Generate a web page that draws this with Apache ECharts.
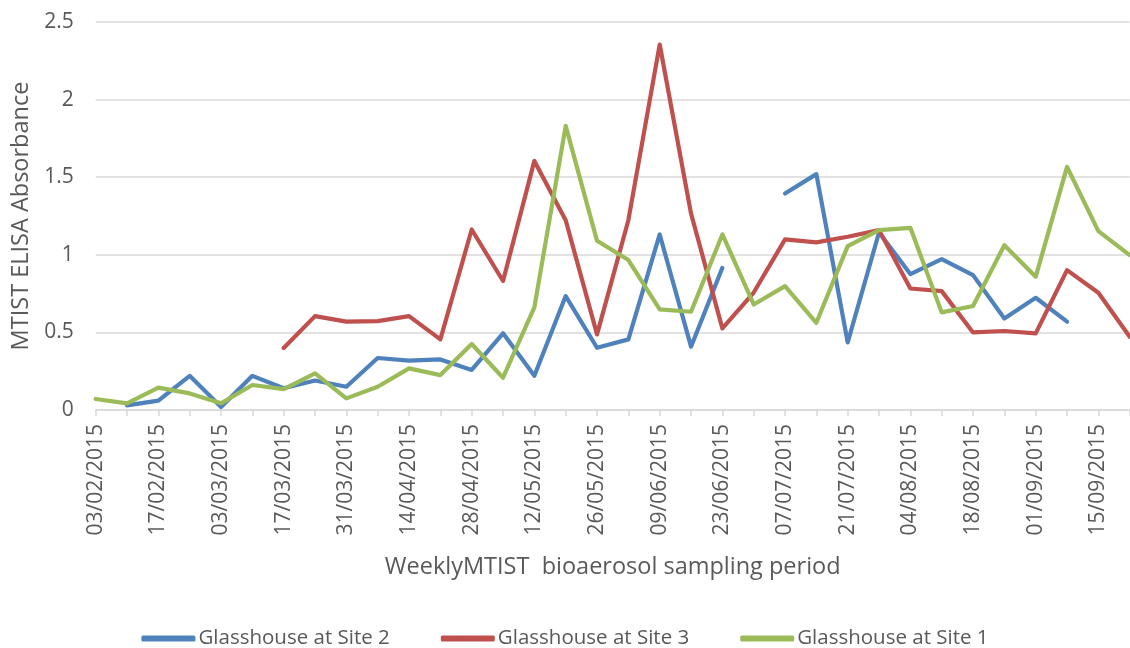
<!DOCTYPE html>
<html>
<head>
<meta charset="utf-8">
<script src="https://cdn.jsdelivr.net/npm/echarts@6/dist/echarts.min.js"></script>
<style>html,body{margin:0;padding:0;background:#fff}#c{width:1130px;height:648px}</style>
</head>
<body>
<div id="c"></div>
<script>
const categories = ['03/02/2015','10/02/2015','17/02/2015','24/02/2015','03/03/2015','10/03/2015','17/03/2015','24/03/2015','31/03/2015','07/04/2015','14/04/2015','21/04/2015','28/04/2015','05/05/2015','12/05/2015','19/05/2015','26/05/2015','02/06/2015','09/06/2015','16/06/2015','23/06/2015','30/06/2015','07/07/2015','14/07/2015','21/07/2015','28/07/2015','04/08/2015','11/08/2015','18/08/2015','25/08/2015','01/09/2015','08/09/2015','15/09/2015','22/09/2015'];
const site2 = [null,0.03,0.06,0.22,0.02,0.22,0.14,0.19,0.15,0.335,0.318,0.326,0.258,0.494,0.221,0.734,0.401,0.455,1.131,0.408,0.916,null,1.395,1.52,0.436,1.144,0.876,0.972,0.869,0.59,0.723,0.569,null,null];
const site3 = [null,null,null,null,null,null,0.40,0.605,0.569,0.573,0.605,0.455,1.163,0.831,1.605,1.223,0.487,1.223,2.355,1.266,0.526,0.757,1.099,1.08,1.116,1.159,0.783,0.766,0.50,0.509,0.494,0.901,0.755,0.472];
const site1 = [0.071,0.043,0.144,0.107,0.043,0.161,0.135,0.236,0.075,0.15,0.268,0.225,0.425,0.208,0.661,1.831,1.09,0.966,0.648,0.633,1.131,0.68,0.798,0.562,1.056,1.159,1.174,0.629,0.67,1.062,0.858,1.567,1.153,0.998];
const seriesNames = ['Glasshouse at Site 2','Glasshouse at Site 3','Glasshouse at Site 1'];
const yTicks = {min:0, max:2.5, interval:0.5};

const FONT = 'Open Sans';
const TXT = '#595959';
const chart = echarts.init(document.getElementById('c'), null, {renderer:'canvas'});
function mk(name, data, color){
  return {name, type:'line', data, symbol:'none', connectNulls:false, animation:false,
    lineStyle:{width:4.2, color, cap:'round', join:'round'}, itemStyle:{color}};
}
chart.setOption({
  animation:false,
  grid:{left:95.7, right:0.3, top:22, bottom:238, containLabel:false},
  legend:{top:623, left:'center', itemWidth:54, itemHeight:6, itemGap:51, icon:'roundRect',
    textStyle:{fontFamily:FONT, fontSize:20.5, color:TXT, padding:[0,0,0,-2]},
    data:seriesNames},
  xAxis:{type:'category', data:categories, boundaryGap:false,
    axisLine:{lineStyle:{color:'#D9D9D9', width:1.5}},
    axisTick:{show:true, interval:0, length:6, lineStyle:{color:'#D9D9D9', width:1.5}},
    axisLabel:{interval:1, rotate:90, margin:14, fontFamily:FONT, fontSize:21, color:TXT},
    name:'WeeklyMTIST  bioaerosol sampling period', nameLocation:'middle', nameGap:145,
    nameTextStyle:{fontFamily:FONT, fontSize:23.5, color:TXT}},
  yAxis:{type:'value', min:yTicks.min, max:yTicks.max, interval:yTicks.interval,
    axisLine:{show:false}, axisTick:{show:false},
    splitLine:{lineStyle:{color:'#D9D9D9', width:1.5}},
    axisLabel:{margin:22, fontFamily:FONT, fontSize:21, color:TXT},
    name:'MTIST ELISA Absorbance', nameLocation:'middle', nameGap:62, nameRotate:90,
    nameTextStyle:{fontFamily:FONT, fontSize:23.5, color:TXT}},
  series:[mk(seriesNames[0], site2, '#4F81BD'), mk(seriesNames[1], site3, '#C0504D'), mk(seriesNames[2], site1, '#9BBB59')]
});
</script>
</body>
</html>
